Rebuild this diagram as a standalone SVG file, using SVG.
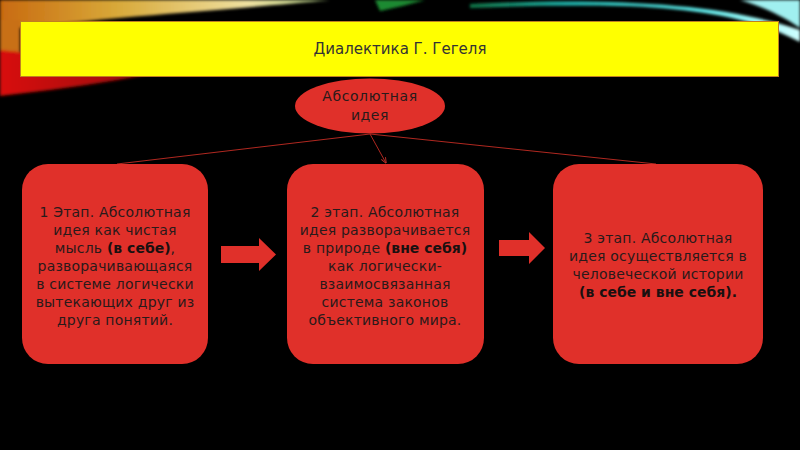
<svg xmlns="http://www.w3.org/2000/svg" width="800" height="450" viewBox="0 0 800 450">
  <defs>
    <linearGradient id="gWarm" x1="0" y1="0" x2="1" y2="0">
      <stop offset="0" stop-color="#c86a10"/>
      <stop offset="0.35" stop-color="#d8a838"/>
      <stop offset="0.75" stop-color="#eee0a0"/>
      <stop offset="1" stop-color="#b8d888"/>
    </linearGradient>
    <linearGradient id="gRed" x1="0" y1="0" x2="1" y2="0">
      <stop offset="0" stop-color="#d81008"/>
      <stop offset="0.55" stop-color="#a00a08"/>
      <stop offset="1" stop-color="#280000"/>
    </linearGradient>
    <linearGradient id="gCool" x1="0" y1="0" x2="1" y2="0">
      <stop offset="0" stop-color="#107848"/>
      <stop offset="0.3" stop-color="#20b8b0"/>
      <stop offset="0.7" stop-color="#60f0f0"/>
      <stop offset="1" stop-color="#d0ffff"/>
    </linearGradient>
    <filter id="soft" filterUnits="userSpaceOnUse" x="-20" y="-20" width="840" height="160">
      <feGaussianBlur stdDeviation="1.5"/>
    </filter>
    <marker id="ah" viewBox="0 0 10 10" refX="9" refY="5" markerWidth="6" markerHeight="6" orient="auto">
      <path d="M0,1 L10,5 L0,9" fill="none" stroke="#c0302a" stroke-width="1.5"/>
    </marker>
  </defs>
  <style>
    .box { fill: #e0302a; }
    .txt { font-family: "DejaVu Sans", "Noto Sans", sans-serif; font-size: 14px; letter-spacing: 0.2px; fill: #2a1a1a; text-anchor: middle; }
    .b { font-weight: bold; fill: #1a1010; letter-spacing: 0px; }
    .link { stroke: #b02820; stroke-width: 1; fill: none; }
    .blk { fill: #e0302a; }
  </style>
  <rect width="800" height="450" fill="#000"/>
  <!-- background swooshes -->
  <g id="background" filter="url(#soft)">
    <path d="M0,0 L330,0 C250,8 120,16 0,30 Z" fill="url(#gWarm)"/>
    <path d="M0,20 L20,20 L20,60 L0,60 Z" fill="#c87018"/>
    <path d="M0,50 C80,58 180,62 235,52 C180,72 90,86 0,96 Z" fill="url(#gRed)"/>
    <path d="M375,0 L425,0 C410,4 395,8 380,11 Z" fill="#1a8a30"/>
    <path d="M470,4 C600,-2 720,2 800,30 L800,42 C760,20 700,8 620,6 C570,5 520,6 470,8 Z" fill="url(#gCool)"/>
    <path d="M740,0 L800,0 L800,28 C780,14 760,6 740,0 Z" fill="#a0f0f0"/>
  </g>
  <!-- title bar -->
  <g id="title">
    <rect x="20.5" y="21.5" width="758" height="55" fill="#ffff00" stroke="#c08020" stroke-width="1"/>
    <text x="400" y="54" font-family="DejaVu Sans, sans-serif" font-size="15" fill="#333" text-anchor="middle">Диалектика Г. Гегеля</text>
  </g>
  <!-- connectors -->
  <g id="connectors">
    <line class="link" x1="370" y1="134" x2="117" y2="164"/>
    <line class="link" x1="370" y1="134" x2="656" y2="164"/>
    <line class="link" x1="370" y1="134" x2="386" y2="163" marker-end="url(#ah)"/>
    <path class="blk" d="M221,246 L259,246 L259,238 L276,254.5 L259,271 L259,263 L221,263 Z"/>
    <path class="blk" d="M499,240 L529,240 L529,232 L545,248 L529,264 L529,256 L499,256 Z"/>
  </g>
  <!-- nodes -->
  <g id="absolute-idea">
    <ellipse class="box" cx="370" cy="106" rx="75" ry="27.5"/>
    <text class="txt" x="370" y="101" style="letter-spacing:0.6px">Абсолютная</text>
    <text class="txt" x="370" y="120" style="letter-spacing:0.6px">идея</text>
  </g>
  <g id="stage1">
    <rect class="box" x="22" y="164" width="186" height="200" rx="26"/>
    <text class="txt" x="115" y="217">1 Этап. Абсолютная</text>
    <text class="txt" x="115" y="235">идея как чистая</text>
    <text class="txt" x="115" y="253">мысль <tspan class="b">(в себе)</tspan>,</text>
    <text class="txt" x="115" y="271">разворачивающаяся</text>
    <text class="txt" x="115" y="289">в системе логически</text>
    <text class="txt" x="115" y="307">вытекающих друг из</text>
    <text class="txt" x="115" y="325">друга понятий.</text>
  </g>
  <g id="stage2">
    <rect class="box" x="287" y="164" width="197" height="200" rx="26"/>
    <text class="txt" x="385" y="217">2 этап. Абсолютная</text>
    <text class="txt" x="385" y="235">идея разворачивается</text>
    <text class="txt" x="385" y="253">в природе <tspan class="b">(вне себя)</tspan></text>
    <text class="txt" x="385" y="271">как логически-</text>
    <text class="txt" x="385" y="289">взаимосвязанная</text>
    <text class="txt" x="385" y="307">система законов</text>
    <text class="txt" x="385" y="325">объективного мира.</text>
  </g>
  <g id="stage3">
    <rect class="box" x="553" y="164" width="210" height="200" rx="26"/>
    <text class="txt" x="658" y="243">3 этап. Абсолютная</text>
    <text class="txt" x="658" y="261">идея осуществляется в</text>
    <text class="txt" x="658" y="279">человеческой истории</text>
    <text class="txt b" x="658" y="297">(в себе и вне себя).</text>
  </g>
</svg>
